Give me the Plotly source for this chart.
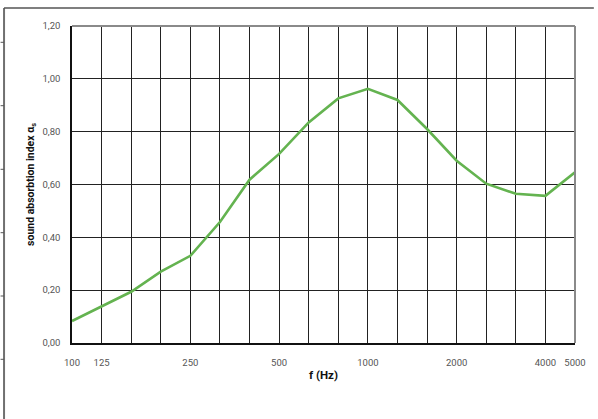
import plotly.graph_objects as go

# Data
frequencies = ["100", "125", "160", "200", "250", "315", "400", "500", "630",
               "800", "1000", "1250", "1600", "2000", "2500", "3150", "4000", "5000"]
absorption = [0.083, 0.14, 0.194, 0.27, 0.33, 0.458, 0.618, 0.716, 0.835,
              0.926, 0.962, 0.92, 0.81, 0.69, 0.603, 0.565, 0.557, 0.646]
labelled = ["100", "125", "250", "500", "1000", "2000", "4000", "5000"]
x_ticktext = [f if f in labelled else "" for f in frequencies]
y_ticks = [0, 0.2, 0.4, 0.6, 0.8, 1.0, 1.2]

W, H = 598, 419
L, R, T, B = 72, 579, 26, 343
pw, ph = R - L, B - T

def px(x):
    return (x - L) / pw

def py(y):
    return (B - y) / ph

fig = go.Figure()
fig.add_trace(go.Scatter(
    x=frequencies, y=absorption, mode="lines",
    line=dict(color="#64b350", width=2.6),
    hoverinfo="skip", showlegend=False,
))

tickfont = dict(family="Roboto, sans-serif", size=9.5, color="#555555")
ytitlefont = dict(family="Liberation Sans Narrow, Roboto, sans-serif", size=10.5, color="#111111")
xtitlefont = dict(family="Roboto, sans-serif", size=11.5, color="#111111")

fig.update_layout(
    width=W, height=H, autosize=False,
    margin=dict(l=L, r=W - R, t=T, b=H - B),
    paper_bgcolor="white", plot_bgcolor="white",
    separators=",.",
    xaxis=dict(
        type="category", categoryorder="array", categoryarray=frequencies,
        range=[0, len(frequencies) - 1],
        tickmode="array", tickvals=frequencies, ticktext=x_ticktext,
        showgrid=True, gridcolor="#222222", gridwidth=1,
        showline=True, linecolor="#111111", linewidth=1.5,
        ticks="", tickfont=tickfont, ticklabelstandoff=10,
        title=dict(text="<b>f (Hz)</b>", font=xtitlefont, standoff=4),
        zeroline=False,
    ),
    yaxis=dict(
        range=[0, 1.2], tickmode="array", tickvals=y_ticks, tickformat=".2f",
        showgrid=True, gridcolor="#222222", gridwidth=1,
        showline=True, linecolor="#111111", linewidth=1.5,
        ticks="", tickfont=tickfont, ticklabelstandoff=8,
        title=dict(text="<b>sound absorbtion index α<sub>s</sub></b>", font=ytitlefont, standoff=6),
        zeroline=False,
    ),
    shapes=[
        dict(type="line", xref="paper", yref="paper", x0=0, x1=1, y0=1, y1=1,
             line=dict(color="#8a8a8a", width=2)),
        dict(type="line", xref="paper", yref="paper", x0=1, x1=1, y0=0, y1=1,
             line=dict(color="#8a8a8a", width=2)),
        dict(type="line", xref="paper", yref="paper", x0=px(3.5), x1=px(3.5), y0=py(8), y1=py(419),
             line=dict(color="#707070", width=2)),
        dict(type="line", xref="paper", yref="paper", x0=px(3.5), x1=px(598), y0=py(8), y1=py(8),
             line=dict(color="#555555", width=1.5)),
    ] + [
        dict(type="line", xref="paper", yref="paper", x0=px(0), x1=px(3.5), y0=py(yy), y1=py(yy),
             line=dict(color="#555555", width=1))
        for yy in [42.3, 105.7, 169.3, 232.7, 296, 359.3]
    ],
)

fig.write_html("out.html", config={"displayModeBar": False},
               post_script="document.body.style.margin='0';document.body.style.overflow='hidden';")
